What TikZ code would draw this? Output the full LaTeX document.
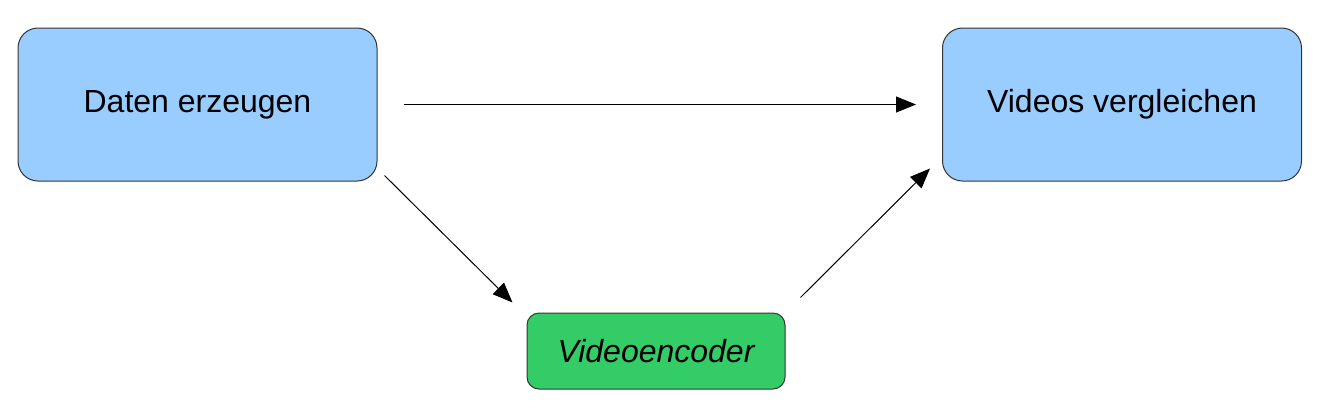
\documentclass[tikz,border=0pt]{standalone}
\usepackage{fontspec}
\setmainfont{Liberation Sans}
\usetikzlibrary{arrows.meta,calc}
\definecolor{ink}{HTML}{333333}
\definecolor{bluefill}{HTML}{99CCFF}
\definecolor{greenfill}{HTML}{33CC66}
\tikzset{
  font=\fontsize{16pt}{19pt}\selectfont,
  >={Triangle[length=10pt,width=8pt]},
  block/.style={draw=ink,line width=.5pt,align=center,inner sep=2pt},
  stage/.style={block,fill=bluefill,rounded corners=10pt,minimum width=179.5pt,minimum height=76.5pt},
  codec/.style={block,fill=greenfill,rounded corners=6pt,minimum width=129pt,minimum height=38pt},
  flow/.style={->,draw=black,line width=.5pt}
}
\begin{document}
\begin{tikzpicture}[x=.5pt,y=-.5pt]
  \useasboundingbox (0,0) rectangle (1322,419);
  \node[stage] (gen) at (197.5,104.5) {Daten erzeugen};
  \node[stage] (cmp) at (1122,104.5) {Videos vergleichen};
  \node[codec] (enc) at (656,351) {\itshape Videoencoder};

  % arrows stop short of the boxes, as in the original drawing
  \draw[flow,shorten <=13pt,shorten >=13pt] (gen.east) -- (cmp.west);
  \draw[flow] ($(gen.south east)+(7,-6)$) -- ($(enc.north west)+(-14,-10)$);
  \draw[flow] ($(enc.north east)+(15,-15)$) -- ($(cmp.south west)+(-12,-13)$);
\end{tikzpicture}
\end{document}
